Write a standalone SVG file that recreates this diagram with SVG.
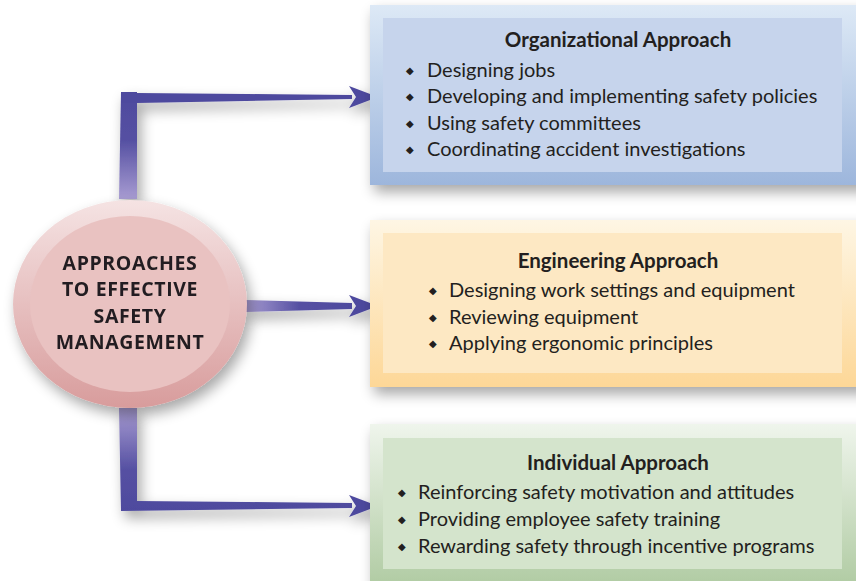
<svg xmlns="http://www.w3.org/2000/svg" width="856" height="581" viewBox="0 0 856 581">
<style>
.t{font-family:"Lato","Open Sans","Liberation Sans",sans-serif;fill:#231f20}
.h{font-size:20.5px;font-weight:bold;text-anchor:middle}
.b{font-size:20px}
.d{font-size:10px;text-anchor:middle}
.c{font-family:"Open Sans","Liberation Sans",sans-serif;font-size:19.5px;letter-spacing:0.6px;font-weight:bold;text-anchor:middle;fill:#231f20}
</style>
<defs>
<filter id="sh" x="-20%" y="-20%" width="140%" height="150%">
<feGaussianBlur in="SourceAlpha" stdDeviation="7"/>
<feOffset dx="4" dy="7" result="o"/>
<feComponentTransfer><feFuncA type="linear" slope="0.35"/></feComponentTransfer>
<feMerge><feMergeNode/><feMergeNode in="SourceGraphic"/></feMerge>
</filter>
<linearGradient id="g1" x1="0" y1="0" x2="0" y2="1"><stop offset="0" stop-color="#dde9f6"/><stop offset="1" stop-color="#9db6dc"/></linearGradient>
<linearGradient id="g2" x1="0" y1="0" x2="0" y2="1"><stop offset="0" stop-color="#fef6e4"/><stop offset="1" stop-color="#fdd797"/></linearGradient>
<linearGradient id="g3" x1="0" y1="0" x2="0" y2="1"><stop offset="0" stop-color="#eff5ec"/><stop offset="1" stop-color="#adc99f"/></linearGradient>
<linearGradient id="gc" x1="0" y1="0" x2="0" y2="1"><stop offset="0" stop-color="#f5e3e3"/><stop offset="1" stop-color="#d89c9c"/></linearGradient>
<linearGradient id="vUp" x1="0" y1="1" x2="0" y2="0"><stop offset="0" stop-color="#a89cd2"/><stop offset="0.55" stop-color="#5550a2"/><stop offset="1" stop-color="#4e4a9e"/></linearGradient>
<linearGradient id="vDn" x1="0" y1="0" x2="0" y2="1"><stop offset="0" stop-color="#a89cd2"/><stop offset="0.6" stop-color="#5550a2"/><stop offset="1" stop-color="#4e4a9e"/></linearGradient>
<linearGradient id="hM" x1="0" y1="0" x2="1" y2="0"><stop offset="0" stop-color="#a89cd2"/><stop offset="0.5" stop-color="#5550a2"/><stop offset="1" stop-color="#4e4a9e"/></linearGradient>
</defs>

<g id="connectors" filter="url(#sh)">
<polygon fill="url(#vUp)" points="119,199 121,92 137,92 137,199"/>
<polygon fill="#4e4a9e" points="121,92 137,93 352,95 352,99 137,103 121,103"/>
<polygon fill="#4e4a9e" points="378,97 349,86 356,97 349,108"/>
<polygon fill="url(#hM)" points="246,300 352,303 352,309 246,312"/>
<polygon fill="#4e4a9e" points="378,306 349,295 356,306 349,317"/>
<polygon fill="url(#vDn)" points="119,408 137,408 137,501 352,503 352,508 121,511"/>
<polygon fill="#4e4a9e" points="378,506 349,495 356,506 349,517"/>
</g>

<g id="center" filter="url(#sh)">
<ellipse cx="130" cy="304" rx="117" ry="104" fill="url(#gc)"/>
<ellipse cx="130" cy="304" rx="100" ry="88" fill="#e9c2c1"/>
<text class="c" x="130" y="270">APPROACHES</text>
<text class="c" x="130" y="296">TO EFFECTIVE</text>
<text class="c" x="130" y="323">SAFETY</text>
<text class="c" x="130" y="349">MANAGEMENT</text>
</g>

<g id="organizational">
<rect x="370" y="5" width="500" height="180" fill="url(#g1)" filter="url(#sh)"/>
<rect x="383" y="18" width="459" height="154" fill="#c6d4ec"/>
<text class="t h" x="618" y="47">Organizational Approach</text>
<text class="t d" x="410" y="74">◆</text>
<text class="t b" x="427" y="77">Designing jobs</text>
<text class="t d" x="410" y="100">◆</text>
<text class="t b" x="427" y="103">Developing and implementing safety policies</text>
<text class="t d" x="410" y="127">◆</text>
<text class="t b" x="427" y="130">Using safety committees</text>
<text class="t d" x="410" y="153">◆</text>
<text class="t b" x="427" y="156">Coordinating accident investigations</text>
</g>

<g id="engineering">
<rect x="370" y="220" width="500" height="167" fill="url(#g2)" filter="url(#sh)"/>
<rect x="383" y="233" width="459" height="140" fill="#fde8c3"/>
<text class="t h" x="618" y="268">Engineering Approach</text>
<text class="t d" x="433" y="294">◆</text>
<text class="t b" x="449" y="297">Designing work settings and equipment</text>
<text class="t d" x="433" y="321">◆</text>
<text class="t b" x="449" y="324">Reviewing equipment</text>
<text class="t d" x="433" y="347">◆</text>
<text class="t b" x="449" y="350">Applying ergonomic principles</text>
</g>

<g id="individual">
<rect x="370" y="424" width="500" height="170" fill="url(#g3)" filter="url(#sh)"/>
<rect x="383" y="438" width="459" height="131" fill="#d4e4cc"/>
<text class="t h" x="618" y="470">Individual Approach</text>
<text class="t d" x="402" y="496">◆</text>
<text class="t b" x="418" y="499">Reinforcing safety motivation and attitudes</text>
<text class="t d" x="402" y="523">◆</text>
<text class="t b" x="418" y="526">Providing employee safety training</text>
<text class="t d" x="402" y="550">◆</text>
<text class="t b" x="418" y="553">Rewarding safety through incentive programs</text>
</g>
</svg>
